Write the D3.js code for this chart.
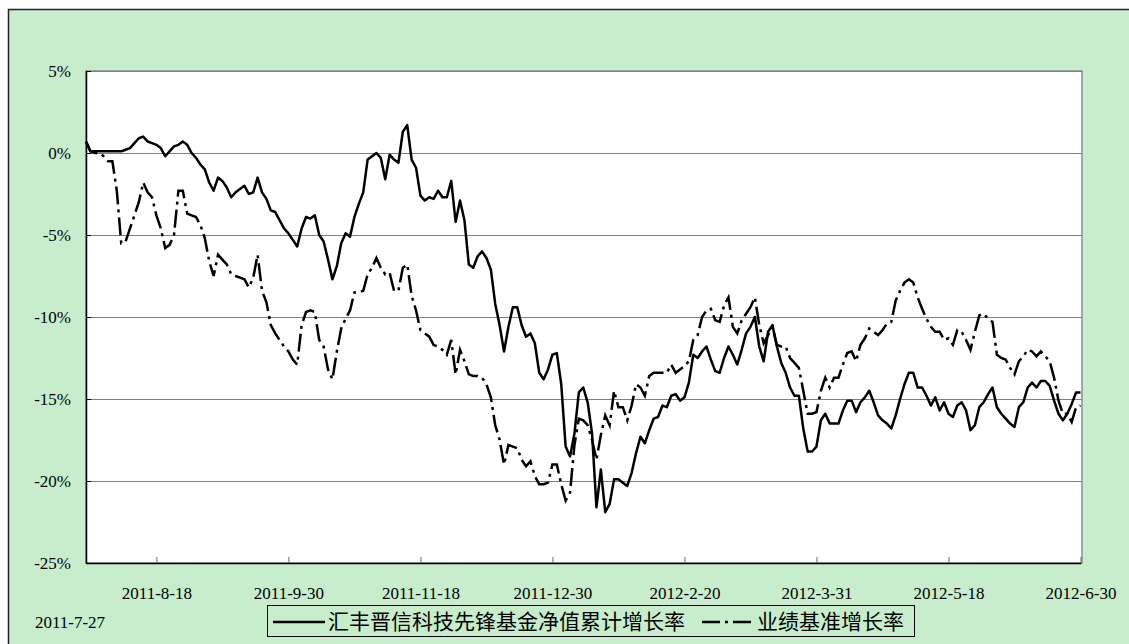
<!DOCTYPE html>
<html lang="zh">
	<head>
		<meta charset="utf-8">
		<title>fund vs benchmark</title>
		<script src="https://d3js.org/d3.v7.min.js"></script>
		<style type="text/css">
			body { margin: 0; background: #ffffff; }
			.axis text {
				font-family: "Liberation Serif", "Times New Roman", serif;
				font-size: 17px;
				fill: #000;
			}
			.legend text {
				font-family: "Noto Sans CJK SC", sans-serif;
				font-size: 21px;
				fill: #000;
			}
		</style>
	</head>
	<body>
		<div id="chart"></div>
		<script type="text/javascript">

			//Width and height
			var w = 1129;
			var h = 644;

			//trading day index where each x label sits
			var tickDays = [16, 46, 76, 106, 136, 166, 196, 226];
			var tickLabels = ["2011-8-18", "2011-9-30", "2011-11-18", "2011-12-30",
				"2012-2-20", "2012-3-31", "2012-5-18", "2012-6-30"];
			var startLabel = "2011-7-27";

			var yTicks = [5, 0, -5, -10, -15, -20, -25];

			var seriesNames = ["汇丰晋信科技先锋基金净值累计增长率", "业绩基准增长率"];

			//fund cumulative growth, % (one value per trading day)
			var fund = [
				0.7, 0.1, 0.1, 0.1, 0.1, 0.1, 0.1, 0.1, 0.1, 0.2,
				0.3, 0.6, 0.9, 1.0, 0.7, 0.6, 0.5, 0.3, -0.2, 0.1,
				0.4, 0.5, 0.7, 0.5, 0.0, -0.3, -0.7, -1.0, -1.8, -2.3,
				-1.5, -1.7, -2.1, -2.7, -2.4, -2.2, -2.0, -2.5, -2.4, -1.5,
				-2.4, -2.8, -3.5, -3.6, -4.1, -4.6, -4.9, -5.3, -5.7, -4.6,
				-3.9, -4.0, -3.8, -5.0, -5.4, -6.5, -7.7, -6.9, -5.5, -4.9,
				-5.1, -3.9, -3.1, -2.4, -0.4, -0.2, 0.0, -0.3, -1.6, -0.1,
				-0.4, -0.6, 1.3, 1.7, -0.4, -0.9, -2.6, -2.9, -2.7, -2.8,
				-2.3, -2.7, -2.7, -1.7, -4.2, -2.9, -4.1, -6.8, -7.0, -6.3,
				-6.0, -6.4, -7.1, -9.2, -10.5, -12.1, -10.6, -9.4, -9.4, -10.5,
				-11.2, -11.0, -11.6, -13.4, -13.8, -13.2, -12.3, -12.2, -14.1, -17.9,
				-18.5, -17.1, -14.6, -14.3, -15.2, -17.1, -21.6, -19.3, -21.9, -21.4,
				-19.9, -19.9, -20.1, -20.3, -19.5, -18.3, -17.3, -17.7, -16.9, -16.2,
				-16.1, -15.4, -15.5, -14.8, -14.7, -15.1, -14.9, -14.0, -12.3, -12.5,
				-12.1, -11.8, -12.6, -13.3, -13.4, -12.5, -11.8, -12.3, -12.9, -12.0,
				-11.0, -10.6, -10.0, -11.8, -12.7, -10.9, -10.5, -11.8, -12.8, -13.4,
				-14.3, -14.8, -14.8, -16.8, -18.2, -18.2, -17.9, -16.3, -15.9, -16.5,
				-16.5, -16.5, -15.7, -15.1, -15.1, -15.8, -15.2, -14.9, -14.5, -15.2,
				-16.0, -16.3, -16.5, -16.8, -16.0, -15.0, -14.1, -13.4, -13.4, -14.3,
				-14.3, -14.8, -15.4, -14.9, -15.7, -15.2, -15.9, -16.1, -15.4, -15.2,
				-15.7, -16.9, -16.6, -15.5, -15.2, -14.7, -14.3, -15.5, -15.9, -16.2,
				-16.5, -16.7, -15.5, -15.2, -14.3, -14.0, -14.3, -13.9, -13.9, -14.2,
				-15.1, -15.9, -16.3, -15.9, -15.3, -14.6, -14.6
			];

			//benchmark growth, %
			var bench = [
				0.7, 0.1, 0.0, 0.0, -0.2, -0.5, -0.5, -2.3, -5.5, -5.4,
				-4.6, -3.8, -3.0, -1.8, -2.4, -2.7, -3.8, -4.6, -5.8, -5.6,
				-5.0, -2.3, -2.3, -3.7, -3.8, -3.9, -4.4, -5.2, -6.6, -7.5,
				-6.2, -6.5, -6.8, -7.4, -7.5, -7.6, -7.7, -8.2, -7.6, -6.2,
				-8.4, -9.1, -10.5, -11.0, -11.4, -11.8, -12.1, -12.6, -12.9, -10.5,
				-9.7, -9.6, -9.7, -11.4, -11.8, -13.2, -13.8, -12.1, -10.7, -10.1,
				-9.6, -8.5, -8.5, -8.4, -7.4, -7.0, -6.4, -7.0, -7.4, -7.3,
				-8.4, -8.4, -7.0, -6.8, -8.7, -9.6, -10.8, -11.0, -11.2, -11.7,
				-11.8, -12.0, -12.3, -11.4, -13.5, -12.0, -12.7, -13.5, -13.6, -13.6,
				-13.7, -14.1, -14.9, -16.6, -17.5, -19.0, -17.8, -17.9, -18.0, -18.7,
				-19.1, -18.8, -19.7, -20.2, -20.2, -20.1, -19.0, -19.0, -20.2, -21.2,
				-20.7, -17.8, -16.2, -16.3, -16.6, -17.5, -18.7, -17.2, -16.0, -16.6,
				-14.5, -15.5, -15.5, -16.3, -15.4, -14.1, -14.3, -14.8, -13.6, -13.4,
				-13.4, -13.4, -13.4, -12.9, -13.4, -13.2, -13.0, -12.7, -11.4, -11.1,
				-10.0, -9.6, -9.5, -10.2, -10.3, -9.3, -8.8, -10.6, -11.0, -10.2,
				-9.8, -9.4, -8.8, -10.5, -11.6, -11.1, -10.6, -11.7, -11.8, -11.8,
				-12.5, -12.8, -13.1, -14.5, -15.9, -15.9, -15.8, -14.5, -13.7, -14.3,
				-13.7, -13.7, -12.9, -12.2, -12.1, -12.7, -11.7, -11.3, -10.7, -10.9,
				-11.1, -10.8, -10.4, -10.3, -9.0, -8.4, -7.9, -7.7, -7.9, -8.8,
				-9.5, -10.1, -10.6, -10.9, -10.9, -11.4, -11.3, -11.7, -10.8, -10.9,
				-11.4, -12.0, -10.9, -9.9, -9.8, -10.1, -10.3, -12.3, -12.5, -12.6,
				-13.1, -13.5, -12.7, -12.4, -12.0, -12.1, -12.4, -12.1, -12.4, -12.7,
				-13.7, -15.1, -15.9, -15.9, -16.4, -15.5, -15.4
			];

			//plot area
			var plotL = 86, plotT = 71, plotR = 1082, plotB = 563;

			var xScale = d3.scaleLinear()
				.domain([0, fund.length - 1])
				.range([plotL, plotR - 1.5]);

			var yScale = d3.scaleLinear()
				.domain([-25, 5])
				.range([plotB, plotT]);

			var svg = d3.select("#chart")
				.append("svg")
				.attr("width", w)
				.attr("height", h);

			//green chart background + frame
			svg.append("rect")
				.attr("x", 8.5)
				.attr("y", 9.5)
				.attr("width", w + 20)
				.attr("height", h + 20)
				.style("fill", "#C7EDCC")
				.style("stroke", "#222")
				.style("stroke-width", 1.5);

			//plot area
			svg.append("rect")
				.attr("x", plotL)
				.attr("y", plotT)
				.attr("width", plotR - plotL)
				.attr("height", plotB - plotT)
				.style("fill", "#ffffff")
				.style("stroke", "#8c8c8c")
				.style("stroke-width", 1.5);

			//gridlines
			svg.selectAll("line.grid")
				.data(yTicks)
				.enter()
				.append("line")
				.attr("class", "grid")
				.attr("x1", plotL)
				.attr("x2", plotR)
				.attr("y1", function(d) { return Math.round(yScale(d)) + 0.5; })
				.attr("y2", function(d) { return Math.round(yScale(d)) + 0.5; })
				.style("stroke", "#808080")
				.style("stroke-width", 1);

			//Create Y axis
			var yAxis = d3.axisLeft(yScale)
				.tickValues(yTicks)
				.tickFormat(function(d) { return d + "%"; })
				.tickSizeInner(-5)
				.tickSizeOuter(0)
				.tickPadding(15);

			var gy = svg.append("g")
				.attr("class", "axis")
				.attr("transform", "translate(" + plotL + ",0)")
				.call(yAxis);
			gy.select(".domain").style("stroke", "#000").style("stroke-width", 1.5);

			//Create X axis
			var xAxis = d3.axisBottom(xScale)
				.tickValues(tickDays)
				.tickFormat(function(d, i) { return tickLabels[i]; })
				.tickSizeInner(-6)
				.tickSizeOuter(0)
				.tickPadding(24);

			var gx = svg.append("g")
				.attr("class", "axis")
				.attr("transform", "translate(0," + plotB + ")")
				.call(xAxis);
			gx.select(".domain").style("stroke", "#000").style("stroke-width", 1.5);
			gx.selectAll(".tick line").style("stroke", "#666");

			//first date sits on a second row
			svg.append("text")
				.attr("x", xScale(0) - 16)
				.attr("y", 628)
				.attr("text-anchor", "middle")
				.style("font-family", "'Liberation Serif', serif")
				.style("font-size", "17px")
				.text(startLabel);

			//lines
			var line = d3.line()
				.x(function(d, i) { return xScale(i); })
				.y(function(d) { return yScale(d); });

			svg.append("path")
				.datum(bench)
				.attr("d", line)
				.style("fill", "none")
				.style("stroke", "#000")
				.style("stroke-width", 2.5)
				.style("stroke-dasharray", "18,5,3,5");

			svg.append("path")
				.datum(fund)
				.attr("d", line)
				.style("fill", "none")
				.style("stroke", "#000")
				.style("stroke-width", 2.5)
				.style("stroke-linejoin", "round");

			//legend
			var legend = svg.append("g").attr("class", "legend");

			legend.append("rect")
				.attr("x", 267.5)
				.attr("y", 605.5)
				.attr("width", 647)
				.attr("height", 31)
				.style("fill", "none")
				.style("stroke", "#000")
				.style("stroke-width", 1);

			legend.append("line")
				.attr("x1", 273).attr("x2", 325)
				.attr("y1", 622).attr("y2", 622)
				.style("stroke", "#000")
				.style("stroke-width", 2.5);

			legend.append("text")
				.attr("x", 328)
				.attr("y", 629)
				.text(seriesNames[0]);

			legend.append("line")
				.attr("x1", 702).attr("x2", 752)
				.attr("y1", 622).attr("y2", 622)
				.style("stroke", "#000")
				.style("stroke-width", 2.5)
				.style("stroke-dasharray", "18,5,3,5");

			legend.append("text")
				.attr("x", 757)
				.attr("y", 629)
				.text(seriesNames[1]);

		</script>
	</body>
</html>
